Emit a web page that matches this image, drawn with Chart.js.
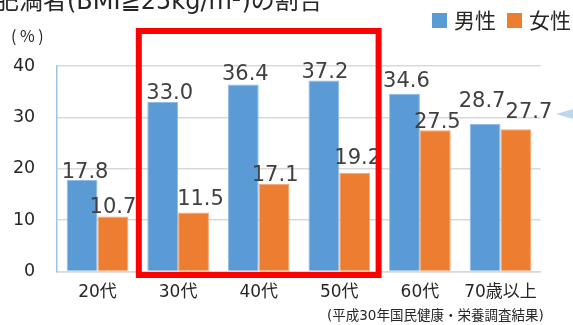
<!DOCTYPE html>
<html>
<head>
<meta charset="utf-8">
<script src="https://cdn.jsdelivr.net/npm/chart.js@4"></script>
<style>
  body { margin: 0; background: #fff; }
  #himan { display: block; }
</style>
</head>
<body>
<canvas id="himan" width="573" height="325"></canvas>
<script>
const kategorije = ['20代', '30代', '40代', '50代', '60代', '70歳以上'];
const muski = [17.8, 33.0, 36.4, 37.2, 34.6, 28.7];
const zenski = [10.7, 11.5, 17.1, 19.2, 27.5, 27.7];
const yTicks = [0, 10, 20, 30, 40];

// rucno pomereni natpisi (kao u originalu)
const muskiDx = [3, 7, 2, 1, 2, -3];
const muskiGap = [1, 2, 3, 1, 6, 16];
const zenskiDx = [0, 7, 1, 3, 2, 13];
const zenskiGap = [3, 6, 2, 8, 1, 10];

const plava = '#5b9bd5';
const narandzasta = '#ed7d31';
const brojFont = '"DejaVu Sans", "Noto Sans CJK JP", sans-serif';
const jpFont = '"Noto Sans CJK JP", sans-serif';

const natpisi = {
  id: 'natpisi',
  afterDatasetsDraw(chart) {
    const ctx = chart.ctx;
    const pomeraji = [[muskiDx, muskiGap], [zenskiDx, zenskiGap]];
    ctx.save();
    ctx.font = '21px ' + brojFont;
    ctx.fillStyle = '#404040';
    ctx.textAlign = 'center';
    ctx.textBaseline = 'alphabetic';
    chart.data.datasets.forEach((ds, i) => {
      chart.getDatasetMeta(i).data.forEach((bar, j) => {
        const [dx, gap] = pomeraji[i];
        ctx.fillText(ds.data[j].toFixed(1), bar.x + dx[j], bar.y - 1 - gap[j]);
      });
    });
    ctx.restore();
  },
  afterDraw(chart) {
    const ctx = chart.ctx;
    const x = chart.scales.x;
    const y = chart.scales.y;
    const sirina = (x.right - x.left) / kategorije.length;
    ctx.save();

    // naslov (odsecen na vrhu)
    ctx.font = '24px ' + brojFont;
    ctx.fillStyle = '#262626';
    ctx.textAlign = 'left';
    ctx.textBaseline = 'alphabetic';
    ctx.fillText('肥満者(BMI≧25kg/m²)の割合', -5, 9);

    // (%)
    ctx.font = '16px ' + jpFont;
    ctx.textBaseline = 'middle';
    ctx.fillText('( % )', 11, 36);

    // legenda
    ctx.font = '21px ' + jpFont;
    let lx = 432;
    chart.data.datasets.forEach(ds => {
      ctx.fillStyle = ds.backgroundColor;
      ctx.fillRect(lx, 13, 15, 15);
      ctx.fillStyle = '#262626';
      ctx.fillText(ds.label, lx + 22, 20);
      lx += 22 + ctx.measureText(ds.label).width + 11;
    });

    // crveni okvir oko 30-50
    ctx.strokeStyle = '#ff0000';
    ctx.lineWidth = 6;
    const l = x.left + sirina + 1;
    const r = x.left + sirina * 4 - 1;
    const t = y.getPixelForValue(40) - 35;
    const b = y.getPixelForValue(0) + 3.5;
    ctx.strokeRect(l, t, r - l, b - t);

    // izvor
    ctx.font = '13.5px ' + brojFont;
    ctx.fillStyle = '#262626';
    ctx.textAlign = 'left';
    ctx.fillText('(平成30年国民健康・栄養調査結果)', 327, 316);

    // mala strelica desno
    ctx.fillStyle = '#bdd7ee';
    ctx.beginPath();
    ctx.moveTo(556, 114);
    ctx.lineTo(573, 109);
    ctx.lineTo(573, 119);
    ctx.closePath();
    ctx.fill();

    ctx.restore();
  }
};

new Chart(document.querySelector('#himan'), {
  type: 'bar',
  data: {
    labels: kategorije,
    datasets: [
      {
        label: '男性',
        data: muski,
        backgroundColor: plava,
        borderColor: '#8fbbe6',
        borderWidth: 1
      },
      {
        label: '女性',
        data: zenski,
        backgroundColor: narandzasta,
        borderColor: '#f2a775',
        borderWidth: 1
      }
    ]
  },
  options: {
    responsive: false,
    devicePixelRatio: 1,
    animation: false,
    categoryPercentage: 0.765,
    barPercentage: 1,
    layout: {
      padding: { top: 66, left: 13.6, right: 32.2, bottom: 25 }
    },
    plugins: {
      legend: { display: false },
      title: { display: false },
      tooltip: { enabled: false }
    },
    scales: {
      x: {
        afterFit(axis) {
          axis.paddingLeft = 0;
          axis.paddingRight = 0;
          axis.height = 28.5;
        },
        grid: { display: false },
        border: { display: true, color: '#d9d9d9', width: 1.5 },
        ticks: {
          color: '#262626',
          padding: 3,
          maxRotation: 0,
          minRotation: 0,
          autoSkip: false,
          font: { family: brojFont, size: 17 }
        }
      },
      y: {
        min: 0,
        max: 40,
        afterBuildTicks(axis) {
          axis.ticks = yTicks.map(v => ({ value: v }));
        },
        afterFit(axis) {
          axis.paddingTop = 0;
          axis.paddingBottom = 0;
          axis.width = 43.6;
        },
        grid: { color: '#d9d9d9', lineWidth: 1.5, drawTicks: false },
        border: { display: true, color: '#9dc3e6', width: 1.5 },
        ticks: {
          color: '#262626',
          padding: 22,
          font: { family: brojFont, size: 17.5 }
        }
      }
    }
  },
  plugins: [natpisi]
});
</script>
</body>
</html>
